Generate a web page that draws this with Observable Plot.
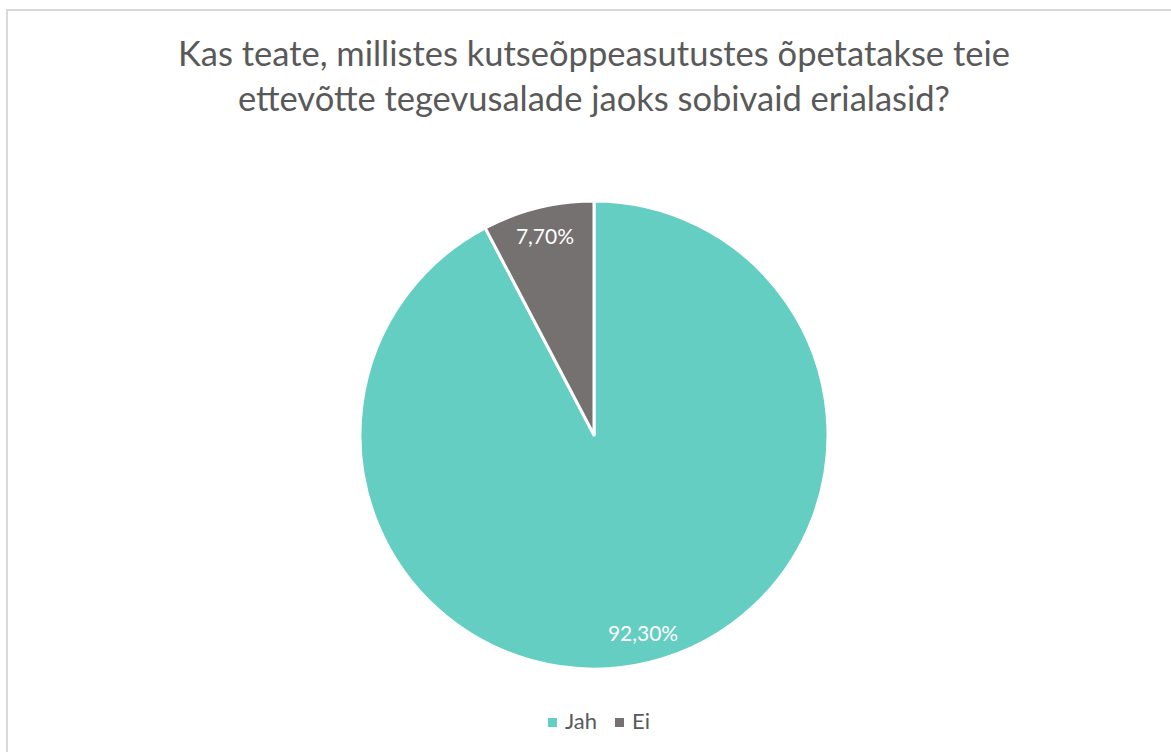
<!DOCTYPE html>
<html>
<head>
<meta charset="utf-8">
<script src="https://cdn.jsdelivr.net/npm/d3@7"></script>
<script src="https://cdn.jsdelivr.net/npm/@observablehq/plot@0.6"></script>
<style>
  html, body { margin: 0; padding: 0; background: #fff; }
  #wrap { position: relative; width: 1171px; height: 752px; overflow: hidden; font-family: Lato, "Open Sans", sans-serif; }
  #frame { position: absolute; left: 6px; top: 9px; width: 1300px; height: 900px; border-left: 2px solid #d9d9d9; border-top: 2px solid #d9d9d9; box-sizing: border-box; }
  #title { position: absolute; left: 0; top: 30px; width: 1188px; text-align: center; color: #595959; font-size: 34.5px; line-height: 45px; }
  #chart { position: absolute; left: 0; top: 180px; }
  #legend { position: absolute; left: 0; top: 708px; width: 1198px; height: 26px; display: flex; justify-content: center; color: #595959; font-size: 22px; line-height: 26px; }
  #legend span.item { display: inline-flex; align-items: center; }
  #legend span.item + span.item { margin-left: 18px; }
  #legend span.sw { display: inline-block; width: 9px; height: 9px; margin-right: 8px; position: relative; top: 1px; }
</style>
</head>
<body>
<div id="wrap">
  <div id="frame"></div>
  <div id="title"></div>
  <div id="chart"></div>
  <div id="legend"></div>
</div>
<script>
const titleLines = ["Kas teate, millistes kutseõppeasutustes õpetatakse teie", "ettevõtte tegevusalade jaoks sobivaid erialasid?"];
const categories = ["Jah", "Ei"];
const values = [92.3, 7.7];
const labels = ["92,30%", "7,70%"];
const colors = ["#63CEC1", "#767171"];

const data = categories.map((c, i) => ({category: c, value: values[i], label: labels[i]}));

document.getElementById("title").innerHTML = titleLines.join("<br>");

const pie = d3.pie().sort(null).value(d => d.value)(data);

function pieMark(index, scales, values_, dimensions) {
  const cx = scales.x(0), cy = scales.y(0);
  const r = scales.x(1) - scales.x(0);
  const arc = d3.arc().innerRadius(0).outerRadius(r);
  const g = d3.create("svg:g").attr("transform", `translate(${cx},${cy})`);
  g.selectAll("path").data(pie).join("path")
    .attr("d", arc)
    .attr("fill", d => scales.color(d.data.category))
    .attr("stroke", "#fff")
    .attr("stroke-width", 3)
    .attr("stroke-linejoin", "round");
  const lr = r * 0.875;
  g.selectAll("text").data(pie).join("text")
    .attr("x", d => lr * Math.sin((d.startAngle + d.endAngle) / 2))
    .attr("y", d => -lr * Math.cos((d.startAngle + d.endAngle) / 2))
    .attr("text-anchor", "middle")
    .attr("dy", "0.35em")
    .attr("fill", "#fff")
    .attr("font-size", 21)
    .attr("font-family", "Lato, 'Open Sans', sans-serif")
    .text(d => d.data.label);
  return g.node();
}

const plot = Plot.plot({
  width: 1171,
  height: 520,
  marginLeft: 360,
  marginRight: 343,
  marginTop: 21,
  marginBottom: 31,
  x: {domain: [-1, 1], axis: null},
  y: {domain: [1, -1], axis: null},
  color: {domain: categories, range: colors},
  marks: [pieMark]
});
document.getElementById("chart").appendChild(plot);

const leg = document.getElementById("legend");
categories.forEach((c, i) => {
  const item = document.createElement("span");
  item.className = "item";
  item.innerHTML = `<span class="sw" style="background:${plot.scale("color").apply(c)}"></span>${c}`;
  leg.appendChild(item);
});
</script>
</body>
</html>
